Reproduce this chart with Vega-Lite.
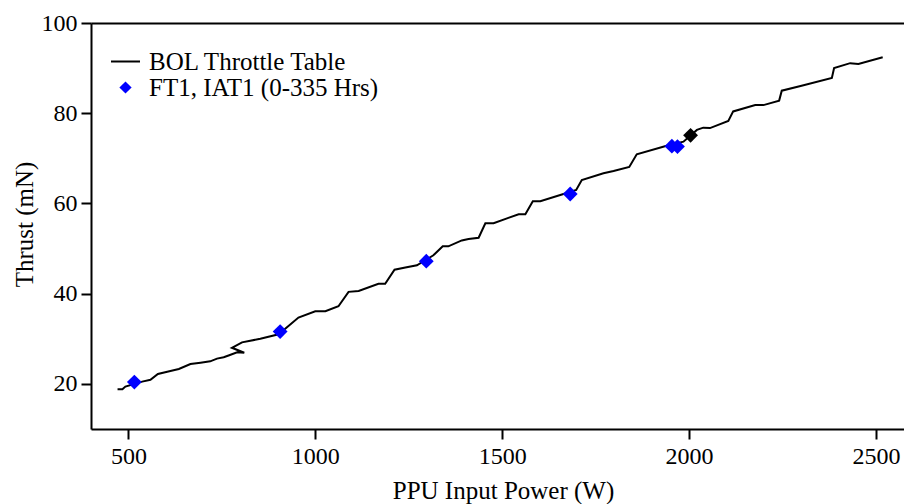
{
  "$schema": "https://vega.github.io/schema/vega-lite/v6.json",
  "width": 813,
  "height": 406,
  "autosize": "none",
  "padding": {"left": 91, "top": 23, "right": 0, "bottom": 75},
  "config": {
    "font": "Liberation Serif",
    "view": {"stroke": null},
    "axis": {
      "domainColor": "black", "domainWidth": 2,
      "tickColor": "black", "tickWidth": 2, "tickSize": 10,
      "labelColor": "black", "labelFontSize": 24, "labelFont": "Liberation Serif",
      "titleColor": "black", "titleFontSize": 25, "titleFontWeight": "normal", "titleFont": "Liberation Serif",
      "grid": false
    },
    "legend": {"labelFont": "Liberation Serif"}
  },
  "datasets": {
    "line": [
      {"i": 1, "power": 471, "thrust": 18.8, "series": "BOL Throttle Table"},
      {"i": 2, "power": 484, "thrust": 18.8, "series": "BOL Throttle Table"},
      {"i": 3, "power": 492, "thrust": 19.4, "series": "BOL Throttle Table"},
      {"i": 4, "power": 537, "thrust": 20.5, "series": "BOL Throttle Table"},
      {"i": 5, "power": 559, "thrust": 20.9, "series": "BOL Throttle Table"},
      {"i": 6, "power": 579, "thrust": 22.2, "series": "BOL Throttle Table"},
      {"i": 7, "power": 604, "thrust": 22.7, "series": "BOL Throttle Table"},
      {"i": 8, "power": 635, "thrust": 23.3, "series": "BOL Throttle Table"},
      {"i": 9, "power": 666, "thrust": 24.4, "series": "BOL Throttle Table"},
      {"i": 10, "power": 693, "thrust": 24.7, "series": "BOL Throttle Table"},
      {"i": 11, "power": 719, "thrust": 25.0, "series": "BOL Throttle Table"},
      {"i": 12, "power": 737, "thrust": 25.6, "series": "BOL Throttle Table"},
      {"i": 13, "power": 755, "thrust": 25.9, "series": "BOL Throttle Table"},
      {"i": 14, "power": 768, "thrust": 26.3, "series": "BOL Throttle Table"},
      {"i": 15, "power": 791, "thrust": 27.0, "series": "BOL Throttle Table"},
      {"i": 16, "power": 810, "thrust": 26.9, "series": "BOL Throttle Table"},
      {"i": 17, "power": 777, "thrust": 28.0, "series": "BOL Throttle Table"},
      {"i": 18, "power": 804, "thrust": 29.2, "series": "BOL Throttle Table"},
      {"i": 19, "power": 853, "thrust": 30.0, "series": "BOL Throttle Table"},
      {"i": 20, "power": 902, "thrust": 31.0, "series": "BOL Throttle Table"},
      {"i": 21, "power": 955, "thrust": 34.7, "series": "BOL Throttle Table"},
      {"i": 22, "power": 1000, "thrust": 36.1, "series": "BOL Throttle Table"},
      {"i": 23, "power": 1027, "thrust": 36.1, "series": "BOL Throttle Table"},
      {"i": 24, "power": 1062, "thrust": 37.2, "series": "BOL Throttle Table"},
      {"i": 25, "power": 1089, "thrust": 40.4, "series": "BOL Throttle Table"},
      {"i": 26, "power": 1116, "thrust": 40.6, "series": "BOL Throttle Table"},
      {"i": 27, "power": 1169, "thrust": 42.2, "series": "BOL Throttle Table"},
      {"i": 28, "power": 1187, "thrust": 42.2, "series": "BOL Throttle Table"},
      {"i": 29, "power": 1212, "thrust": 45.3, "series": "BOL Throttle Table"},
      {"i": 30, "power": 1241, "thrust": 45.8, "series": "BOL Throttle Table"},
      {"i": 31, "power": 1272, "thrust": 46.3, "series": "BOL Throttle Table"},
      {"i": 32, "power": 1316, "thrust": 48.5, "series": "BOL Throttle Table"},
      {"i": 33, "power": 1341, "thrust": 50.5, "series": "BOL Throttle Table"},
      {"i": 34, "power": 1356, "thrust": 50.5, "series": "BOL Throttle Table"},
      {"i": 35, "power": 1392, "thrust": 51.8, "series": "BOL Throttle Table"},
      {"i": 36, "power": 1410, "thrust": 52.1, "series": "BOL Throttle Table"},
      {"i": 37, "power": 1437, "thrust": 52.4, "series": "BOL Throttle Table"},
      {"i": 38, "power": 1455, "thrust": 55.6, "series": "BOL Throttle Table"},
      {"i": 39, "power": 1477, "thrust": 55.6, "series": "BOL Throttle Table"},
      {"i": 40, "power": 1513, "thrust": 56.7, "series": "BOL Throttle Table"},
      {"i": 41, "power": 1544, "thrust": 57.6, "series": "BOL Throttle Table"},
      {"i": 42, "power": 1562, "thrust": 57.6, "series": "BOL Throttle Table"},
      {"i": 43, "power": 1582, "thrust": 60.5, "series": "BOL Throttle Table"},
      {"i": 44, "power": 1602, "thrust": 60.5, "series": "BOL Throttle Table"},
      {"i": 45, "power": 1664, "thrust": 62.1, "series": "BOL Throttle Table"},
      {"i": 46, "power": 1698, "thrust": 63.0, "series": "BOL Throttle Table"},
      {"i": 47, "power": 1713, "thrust": 65.2, "series": "BOL Throttle Table"},
      {"i": 48, "power": 1771, "thrust": 66.7, "series": "BOL Throttle Table"},
      {"i": 49, "power": 1798, "thrust": 67.2, "series": "BOL Throttle Table"},
      {"i": 50, "power": 1840, "thrust": 68.1, "series": "BOL Throttle Table"},
      {"i": 51, "power": 1860, "thrust": 70.9, "series": "BOL Throttle Table"},
      {"i": 52, "power": 1940, "thrust": 72.8, "series": "BOL Throttle Table"},
      {"i": 53, "power": 1985, "thrust": 73.7, "series": "BOL Throttle Table"},
      {"i": 54, "power": 2021, "thrust": 76.3, "series": "BOL Throttle Table"},
      {"i": 55, "power": 2038, "thrust": 76.8, "series": "BOL Throttle Table"},
      {"i": 56, "power": 2056, "thrust": 76.7, "series": "BOL Throttle Table"},
      {"i": 57, "power": 2105, "thrust": 78.3, "series": "BOL Throttle Table"},
      {"i": 58, "power": 2118, "thrust": 80.4, "series": "BOL Throttle Table"},
      {"i": 59, "power": 2177, "thrust": 81.8, "series": "BOL Throttle Table"},
      {"i": 60, "power": 2199, "thrust": 81.8, "series": "BOL Throttle Table"},
      {"i": 61, "power": 2241, "thrust": 82.8, "series": "BOL Throttle Table"},
      {"i": 62, "power": 2248, "thrust": 85.0, "series": "BOL Throttle Table"},
      {"i": 63, "power": 2301, "thrust": 86.1, "series": "BOL Throttle Table"},
      {"i": 64, "power": 2382, "thrust": 87.8, "series": "BOL Throttle Table"},
      {"i": 65, "power": 2388, "thrust": 90.0, "series": "BOL Throttle Table"},
      {"i": 66, "power": 2431, "thrust": 91.1, "series": "BOL Throttle Table"},
      {"i": 67, "power": 2453, "thrust": 90.9, "series": "BOL Throttle Table"},
      {"i": 68, "power": 2518, "thrust": 92.4, "series": "BOL Throttle Table"}
    ],
    "pts": [
      {"power": 516, "thrust": 20.4, "series": "FT1, IAT1 (0-335 Hrs)"},
      {"power": 906, "thrust": 31.6, "series": "FT1, IAT1 (0-335 Hrs)"},
      {"power": 1297, "thrust": 47.2, "series": "FT1, IAT1 (0-335 Hrs)"},
      {"power": 1682, "thrust": 62.1, "series": "FT1, IAT1 (0-335 Hrs)"},
      {"power": 1954, "thrust": 72.7, "series": "FT1, IAT1 (0-335 Hrs)"},
      {"power": 1969, "thrust": 72.6, "series": "FT1, IAT1 (0-335 Hrs)"},
      {"power": 2004, "thrust": 75.1, "series": "Reference"}
    ]
  },
  "layer": [
    {
      "data": {"name": "line"},
      "mark": {"type": "line", "strokeWidth": 2},
      "encoding": {
        "x": {"field": "power", "type": "quantitative",
              "scale": {"domain": [400, 2575], "nice": false, "zero": false},
              "axis": {"values": [500, 1000, 1500, 2000, 2500], "format": "d", "title": "PPU Input Power (W)",
                       "labelBaseline": "alphabetic", "labelPadding": 24, "titleBaseline": "alphabetic", "titleY": 69, "titleX": 412, "labelFlush": false}},
        "y": {"field": "thrust", "type": "quantitative",
              "scale": {"domain": [10, 100], "nice": false, "zero": false},
              "axis": {"values": [20, 40, 60, 80, 100], "format": "d", "title": "Thrust (mN)", "labelPadding": 4,
                       "titleBaseline": "alphabetic", "titleX": -59, "titleY": 201, "labelFlush": false}},
        "order": {"field": "i", "type": "quantitative"},
        "color": {"field": "series", "type": "nominal",
                  "scale": {"domain": ["BOL Throttle Table", "FT1, IAT1 (0-335 Hrs)", "Reference"], "range": ["black", "blue", "black"]},
                  "legend": {
                    "values": ["BOL Throttle Table", "FT1, IAT1 (0-335 Hrs)"],
                    "title": null, "orient": "none", "legendX": 22, "legendY": 26,
                    "padding": 0, "labelFontSize": 25, "labelColor": "black", "labelOffset": 11, "rowPadding": 0, "labelLimit": 500,
                    "encode": {"symbols": {"update": {
                      "shape": {"signal": "datum.value === 'BOL Throttle Table' ? 'stroke' : 'diamond'"},
                      "size": {"signal": "datum.value === 'BOL Throttle Table' ? 841 : 150"},
                      "stroke": {"signal": "datum.value === 'BOL Throttle Table' ? 'black' : 'blue'"},
                      "strokeWidth": {"signal": "datum.value === 'BOL Throttle Table' ? 2 : 0"},
                      "fill": {"value": "blue"},
                      "opacity": {"value": 1},
                      "fillOpacity": {"value": 1},
                      "strokeOpacity": {"value": 1}
                    }}}
                  }}
      }
    },
    {
      "data": {"name": "pts"},
      "mark": {"type": "point", "shape": "diamond", "filled": true, "size": 220, "opacity": 1},
      "encoding": {
        "x": {"field": "power", "type": "quantitative", "axis": null},
        "y": {"field": "thrust", "type": "quantitative"},
        "color": {"field": "series", "type": "nominal"}
      }
    },
    {
      "data": {"name": "pts"},
      "mark": {"type": "point", "opacity": 0},
      "encoding": {
        "x": {"field": "power", "type": "quantitative",
              "axis": {"orient": "top", "labels": false, "ticks": false, "title": null, "domain": true}}
      }
    }
  ],
  "resolve": {"axis": {"x": "independent"}}
}
